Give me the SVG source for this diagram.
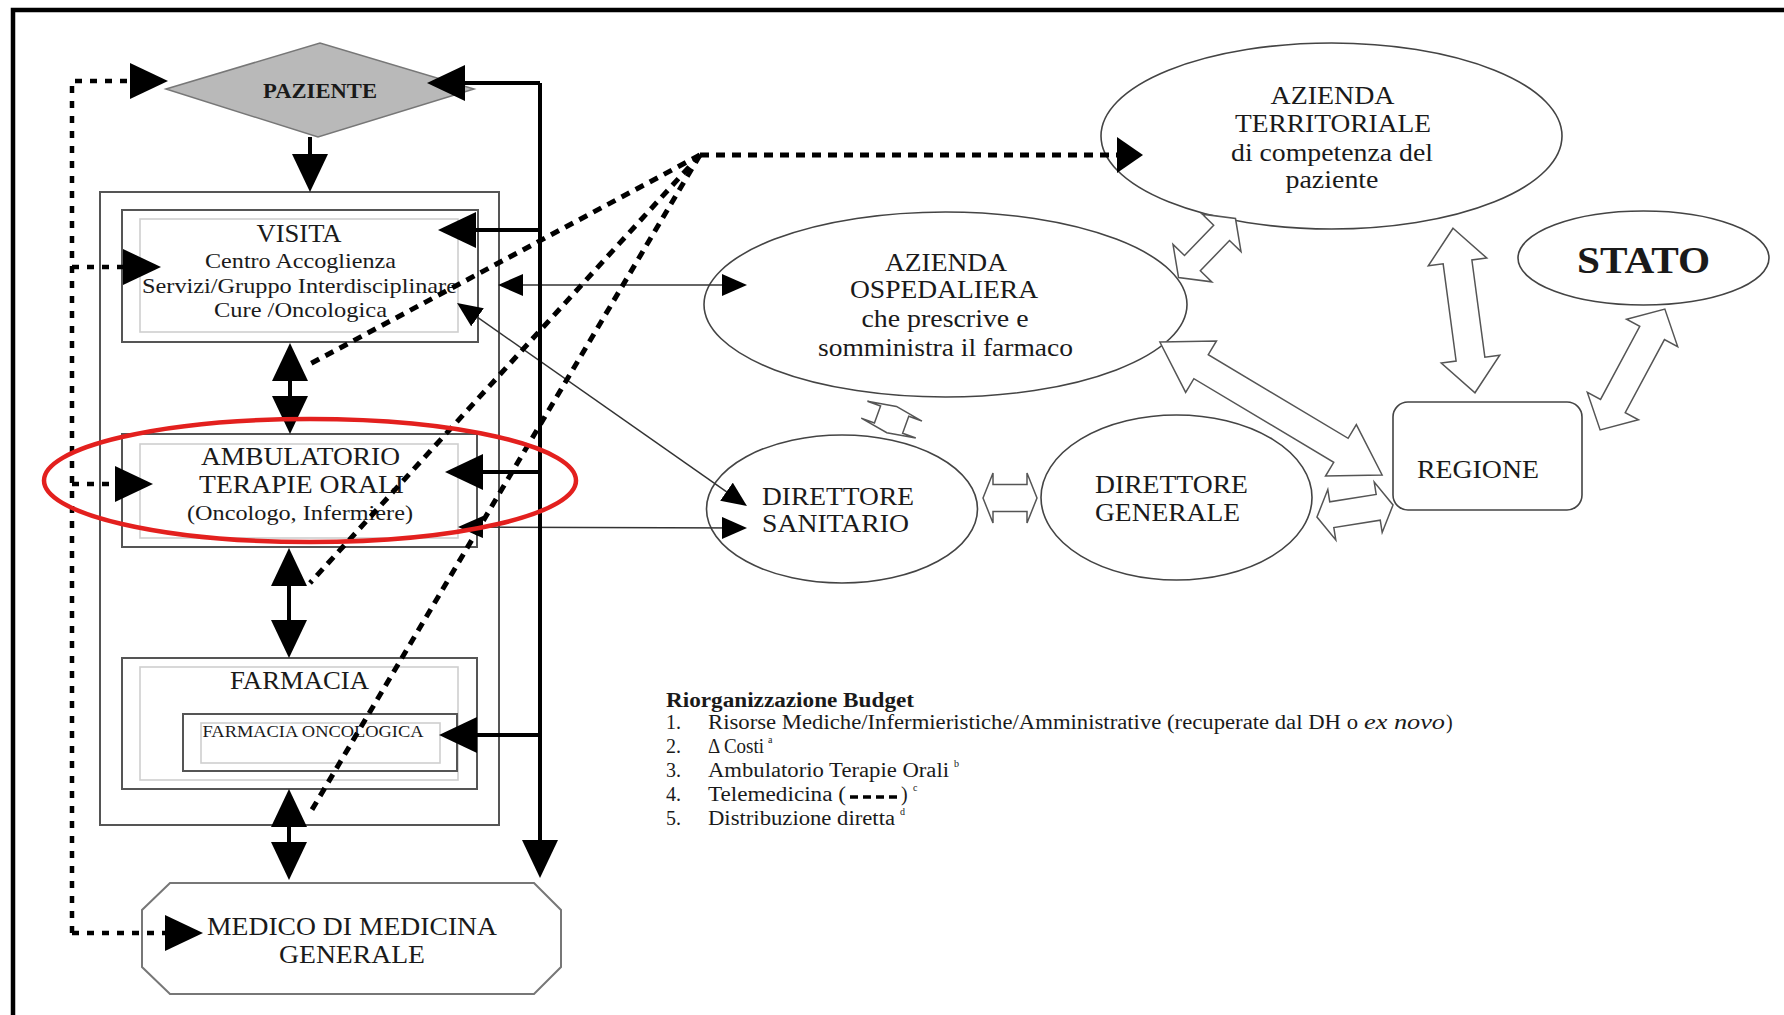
<svg xmlns="http://www.w3.org/2000/svg" width="1784" height="1015" viewBox="0 0 1784 1015">
<style>
.frame{fill:none;stroke:#000;stroke-width:4.5}
.cont{fill:none;stroke:#555;stroke-width:2}
.boxo{fill:#fff;stroke:#555;stroke-width:2}
.boxi{fill:none;stroke:#cfcfcf;stroke-width:1.6}
.ell{fill:#fff;stroke:#444;stroke-width:1.6}
.blk{fill:#fff;stroke:#555;stroke-width:1.5;stroke-linejoin:miter}
.thick{fill:none;stroke:#000;stroke-width:4}
.dot{fill:none;stroke:#000;stroke-width:4.5;stroke-dasharray:7 8}
.tele{fill:none;stroke:#000;stroke-width:5;stroke-dasharray:9 7}
.thin{fill:none;stroke:#333;stroke-width:1.5}
.red{fill:none;stroke:#e3201e;stroke-width:4.5}
text{font-family:"Liberation Serif","Times New Roman",serif;fill:#1a1a1a}
.c{text-anchor:middle}
.t23{font-size:25px}
.t21{font-size:22px}
.t24{font-size:25px}
.lg{font-size:20px}
.sup{font-size:10px}
</style>
<defs>
<marker id="big" markerUnits="userSpaceOnUse" markerWidth="38" markerHeight="36" viewBox="0 0 38 36" refX="28" refY="18" orient="auto-start-reverse"><path d="M0,0 L38,18 L0,36 z" fill="#000"/></marker>
<marker id="tel" markerUnits="userSpaceOnUse" markerWidth="26" markerHeight="36" viewBox="0 0 26 36" refX="16" refY="18" orient="auto"><path d="M0,0 L26,18 L0,36 z" fill="#000"/></marker>
<marker id="sm" markerUnits="userSpaceOnUse" markerWidth="25" markerHeight="22" viewBox="0 0 25 22" refX="22" refY="11" orient="auto-start-reverse"><path d="M0,0 L25,11 L0,22 z" fill="#000"/></marker>
</defs>
<rect width="1784" height="1015" fill="#fff"/>
<path class="frame" d="M13,1015 L13,10 L1784,10"/>

<g id="paziente">
<polygon points="166,89 320,43 474,89 318,137" fill="#b9b9b9" stroke="#777" stroke-width="1.5"/>
<text x="320" y="98" class="c" font-weight="bold" font-size="20" textLength="114" lengthAdjust="spacingAndGlyphs">PAZIENTE</text>
</g>

<g id="ospedale-contenitore">
<rect class="cont" x="100" y="192" width="399" height="633"/>
</g>

<g id="visita">
<rect class="boxo" x="122" y="210" width="356" height="132"/>
<rect class="boxi" x="140" y="219" width="318" height="113"/>
<text x="299" y="242" class="c t23" textLength="85" lengthAdjust="spacingAndGlyphs">VISITA</text>
<text x="300.5" y="268" class="c t21" textLength="191" lengthAdjust="spacingAndGlyphs">Centro Accoglienza</text>
<text x="299.5" y="293" class="c t21" textLength="315" lengthAdjust="spacingAndGlyphs">Servizi/Gruppo Interdisciplinare</text>
<text x="300.5" y="317" class="c t21" textLength="173" lengthAdjust="spacingAndGlyphs">Cure /Oncologica</text>
</g>

<g id="ambulatorio">
<rect class="boxo" x="122" y="434" width="355" height="113"/>
<rect class="boxi" x="140" y="444" width="318" height="94"/>
<text x="300.5" y="465" class="c t23" textLength="199" lengthAdjust="spacingAndGlyphs">AMBULATORIO</text>
<text x="301.5" y="493" class="c t23" textLength="205" lengthAdjust="spacingAndGlyphs">TERAPIE ORALI</text>
<text x="300" y="520" class="c t21" textLength="226" lengthAdjust="spacingAndGlyphs">(Oncologo, Infermiere)</text>
</g>

<g id="farmacia">
<rect class="boxo" x="122" y="658" width="355" height="131"/>
<rect class="boxi" x="140" y="667" width="318" height="113"/>
<text x="299.5" y="689" class="c t23" textLength="139" lengthAdjust="spacingAndGlyphs">FARMACIA</text>
</g>

<g id="farmacia-oncologica">
<rect class="boxo" x="183" y="714" width="274" height="57"/>
<rect class="boxi" x="201" y="723" width="239" height="40"/>
<text x="313" y="737" class="c" font-size="16" textLength="221" lengthAdjust="spacingAndGlyphs">FARMACIA ONCOLOGICA</text>
</g>

<g id="medico">
<polygon points="170,883 534,883 561,910 561,967 534,994 170,994 142,967 142,910" fill="#fff" stroke="#777" stroke-width="2"/>
<text x="352" y="935" class="c t24" textLength="290" lengthAdjust="spacingAndGlyphs">MEDICO DI MEDICINA</text>
<text x="352" y="963" class="c t24" textLength="146" lengthAdjust="spacingAndGlyphs">GENERALE</text>
</g>

<g id="azienda-territoriale">
<ellipse class="ell" cx="1331.5" cy="136" rx="230.5" ry="93"/>
<text x="1332.5" y="104" class="c t24" textLength="124" lengthAdjust="spacingAndGlyphs">AZIENDA</text>
<text x="1333" y="132" class="c t24" textLength="196" lengthAdjust="spacingAndGlyphs">TERRITORIALE</text>
<text x="1332" y="161" class="c t24" textLength="202" lengthAdjust="spacingAndGlyphs">di competenza del</text>
<text x="1332" y="188" class="c t24" textLength="93" lengthAdjust="spacingAndGlyphs">paziente</text>
</g>

<g id="azienda-ospedaliera">
<ellipse class="ell" cx="945.5" cy="304.5" rx="241.5" ry="92.5"/>
<text x="946" y="271" class="c t23" textLength="122" lengthAdjust="spacingAndGlyphs">AZIENDA</text>
<text x="944" y="298" class="c t23" textLength="188" lengthAdjust="spacingAndGlyphs">OSPEDALIERA</text>
<text x="945" y="327" class="c t23" textLength="167" lengthAdjust="spacingAndGlyphs">che prescrive e</text>
<text x="945.5" y="356" class="c t23" textLength="255" lengthAdjust="spacingAndGlyphs">somministra il farmaco</text>
</g>

<g id="stato">
<ellipse class="ell" cx="1643.5" cy="258" rx="125.5" ry="47"/>
<text x="1643.5" y="273" class="c" font-weight="bold" font-size="38" textLength="133" lengthAdjust="spacingAndGlyphs">STATO</text>
</g>

<g id="direttore-sanitario">
<ellipse class="ell" cx="842" cy="509" rx="135.5" ry="74"/>
<text x="762" y="505" class="t24" textLength="152" lengthAdjust="spacingAndGlyphs">DIRETTORE</text>
<text x="762" y="532" class="t24" textLength="147" lengthAdjust="spacingAndGlyphs">SANITARIO</text>
</g>

<g id="direttore-generale">
<ellipse class="ell" cx="1176.5" cy="497.5" rx="135.5" ry="82.5"/>
<text x="1095" y="493" class="t24" textLength="153" lengthAdjust="spacingAndGlyphs">DIRETTORE</text>
<text x="1095" y="521" class="t24" textLength="145" lengthAdjust="spacingAndGlyphs">GENERALE</text>
</g>

<g id="regione">
<rect x="1393" y="402" width="189" height="108" rx="15" ry="15" fill="#fff" stroke="#444" stroke-width="1.6"/>
<text x="1417" y="478" class="t24" textLength="122" lengthAdjust="spacingAndGlyphs">REGIONE</text>
</g>

<g id="connectors">
<polygon class="blk" transform="translate(1207,248) rotate(-46)" points="-41,0 -21,-27 -21,-11 21,-11 21,-27 41,0 21,27 21,11 -21,11 -21,27"/>
<polygon class="blk" transform="translate(1271,408.5) rotate(30.9)" points="-129.5,0 -81.5,-30 -81.5,-14 81.5,-14 81.5,-30 129.5,0 81.5,30 81.5,14 -81.5,14 -81.5,30"/>
<polygon class="blk" transform="translate(1464,310.5) rotate(82.4)" points="-83,0 -49,-29.5 -49,-14.5 49,-14.5 49,-29.5 83,0 49,29.5 49,14.5 -49,14.5 -49,29.5"/>
<polygon class="blk" transform="translate(1632.5,369.5) rotate(118.2)" points="-68.5,0 -41.5,-29 -41.5,-14 41.5,-14 41.5,-29 68.5,0 41.5,29 41.5,14 -41.5,14 -41.5,29"/>
<polygon class="blk" transform="translate(1355,511) rotate(-9)" points="-38.5,0 -23.5,-25.5 -23.5,-13 23.5,-13 23.5,-25.5 38.5,0 23.5,25.5 23.5,13 -23.5,13 -23.5,25.5"/>
<polygon class="blk" transform="translate(1010,498)" points="-27,0 -17,-25 -17,-13.5 17,-13.5 17,-25 27,0 17,25 17,13.5 -17,13.5 -17,25"/>
<polygon class="blk" transform="translate(891.6,419.6) rotate(110)" points="-14,0 -9,-29 -9,-15 9,-15 9,-29 14,0 9,29 9,15 -9,15 -9,29"/>

<path class="thin" d="M501,285 L744,285" marker-start="url(#sm)" marker-end="url(#sm)"/>
<path class="thin" d="M459.5,304.7 L744.5,504.3" marker-start="url(#sm)" marker-end="url(#sm)"/>
<path class="thin" d="M461,527 L744,528" marker-start="url(#sm)" marker-end="url(#sm)"/>

<path class="thick" d="M310,137 L310,182" marker-end="url(#big)"/>
<path class="thick" d="M540,83 L437,83" marker-end="url(#big)"/>
<path class="thick" d="M540,83 L540,868" marker-end="url(#big)"/>
<path class="thick" d="M540,230 L448,230" marker-end="url(#big)"/>
<path class="thick" d="M540,472 L455,472" marker-end="url(#big)"/>
<path class="thick" d="M540,735 L449,735" marker-end="url(#big)"/>
<path class="thick" d="M290,353 L290,424" marker-start="url(#big)" marker-end="url(#big)"/>
<path class="thick" d="M289,558 L289,648" marker-start="url(#big)" marker-end="url(#big)"/>
<path class="thick" d="M289,799 L289,870" marker-start="url(#big)" marker-end="url(#big)"/>

<path class="dot" d="M72,933 L72,81 L158,81" marker-end="url(#big)"/>
<path class="dot" d="M72,267 L151,267" marker-end="url(#big)"/>
<path class="dot" d="M72,484 L143,484" marker-end="url(#big)"/>
<path class="dot" d="M72,933 L193,933" marker-end="url(#big)"/>

<path class="tele" d="M700,155 L1133,155" marker-end="url(#tel)"/>
<path class="tele" d="M700,155 L310,364"/>
<path class="tele" d="M700,155 L310,583"/>
<path class="tele" d="M700,155 L310,813"/>
</g>

<g id="evidenziazione">
<ellipse class="red" cx="310" cy="480.5" rx="266" ry="61.5"/>
</g>

<g id="legenda">
<text x="666" y="707" class="lg" font-weight="bold" textLength="248" lengthAdjust="spacingAndGlyphs">Riorganizzazione Budget</text>
<text x="666" y="729" class="lg">1.</text>
<text x="708" y="729" class="lg" textLength="650" lengthAdjust="spacingAndGlyphs">Risorse Mediche/Infermieristiche/Amministrative (recuperate dal DH o</text>
<text x="1364" y="729" class="lg" font-style="italic" textLength="81" lengthAdjust="spacingAndGlyphs">ex novo</text>
<text x="1446" y="729" class="lg">)</text>
<text x="666" y="753" class="lg">2.</text>
<text x="708" y="753" class="lg" textLength="56" lengthAdjust="spacingAndGlyphs">Δ Costi</text>
<text x="768" y="743" class="sup">a</text>
<text x="666" y="777" class="lg">3.</text>
<text x="708" y="777" class="lg" textLength="241" lengthAdjust="spacingAndGlyphs">Ambulatorio Terapie Orali</text>
<text x="954" y="767" class="sup">b</text>
<text x="666" y="801" class="lg">4.</text>
<text x="708" y="801" class="lg" textLength="138" lengthAdjust="spacingAndGlyphs">Telemedicina (</text>
<path d="M850,797 L899,797" fill="none" stroke="#000" stroke-width="3.5" stroke-dasharray="8 5"/>
<text x="901" y="801" class="lg">)</text>
<text x="913" y="791" class="sup">c</text>
<text x="666" y="825" class="lg">5.</text>
<text x="708" y="825" class="lg" textLength="187" lengthAdjust="spacingAndGlyphs">Distribuzione diretta</text>
<text x="900" y="815" class="sup">d</text>
</g>
</svg>
